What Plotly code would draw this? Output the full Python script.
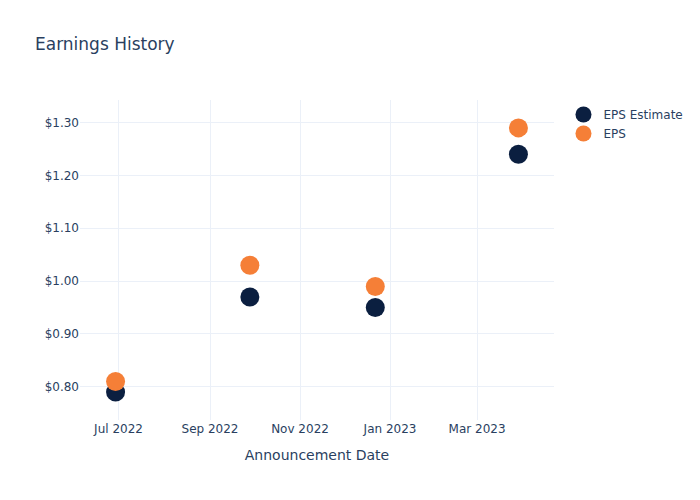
import plotly.graph_objects as go

dates = ["2022-06-29", "2022-09-28", "2022-12-22", "2023-03-29"]
eps_estimate = [0.79, 0.97, 0.95, 1.24]
eps_actual = [0.81, 1.03, 0.99, 1.29]

fig = go.Figure()
fig.add_trace(go.Scatter(x=dates, y=eps_estimate, mode="markers", name="EPS Estimate",
                         marker=dict(color="#0b1f40", size=19)))
fig.add_trace(go.Scatter(x=dates, y=eps_actual, mode="markers", name="EPS",
                         marker=dict(color="#f57f37", size=19)))
fig.update_layout(
    template="plotly_white",
    width=700, height=500,
    font=dict(family="DejaVu Sans"),
    title=dict(text="Earnings History"),
    xaxis=dict(title="Announcement Date", dtick="M2", tickformat="%b %Y"),
    yaxis=dict(tickprefix="$", tickformat=".2f"),
)
fig.write_html("out.html")
